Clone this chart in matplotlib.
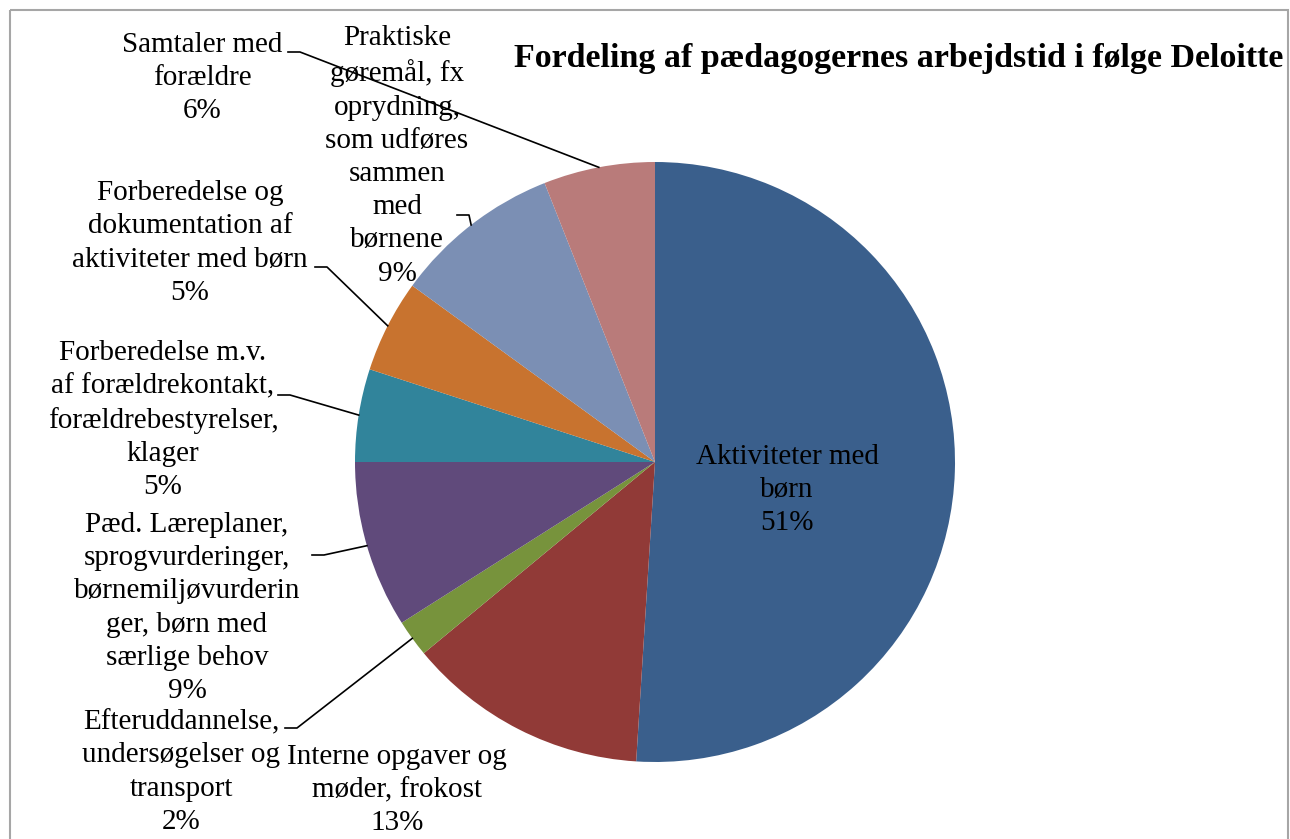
import matplotlib
matplotlib.use("Agg")
import matplotlib.pyplot as plt
from matplotlib.patches import Rectangle
import numpy as np

# data (clockwise from 12 o'clock)
labels = [
    "Aktiviteter med\nbørn",
    "Interne opgaver og\nmøder, frokost",
    "Efteruddannelse,\nundersøgelser og\ntransport",
    "Pæd. Læreplaner,\nsprogvurderinger,\nbørnemiljøvurderin\nger, børn med\nsærlige behov",
    "Forberedelse m.v.\naf forældrekontakt,\nforældrebestyrelser,\nklager",
    "Forberedelse og\ndokumentation af\naktiviteter med børn",
    "Praktiske\ngøremål, fx\noprydning,\nsom udføres\nsammen\nmed\nbørnene",
    "Samtaler med\nforældre",
]
shares = [51, 13, 2, 9, 5, 5, 9, 6]
colors = ["#3A5F8C", "#913A37", "#77933C", "#604A7B", "#31849B", "#C8732F", "#7B8FB4", "#B97B7A"]
title = "Fordeling af pædagogernes arbejdstid i følge Deloitte"

W, H = 1290, 839
fig = plt.figure(figsize=(W / 100, H / 100), dpi=100)
ax = fig.add_axes([0, 0, 1, 1])

cx, cy, r = 655, 462, 300
wedges, _ = ax.pie(shares, colors=colors, startangle=-90, counterclock=True,
                   center=(cx, cy), radius=r, wedgeprops=dict(linewidth=0))
ax.set_xlim(0, W)
ax.set_ylim(H, 0)
ax.axis("off")

# frame around the chart
ax.add_patch(Rectangle((10, 10), 1278, 840, fill=False, edgecolor="#A6A6A6", linewidth=1.5))

font = dict(family="Liberation Serif", fontsize=21, linespacing=1.36, ha="center", va="center", multialignment="center")

# label positions (x center, y center) and leader start
label_pos = [
    (787, 490, None),
    (397, 790, None),
    (181, 772, (285, 728)),
    (187, 608, (312, 555)),
    (163, 420, (278, 395)),
    (190, 243, (315, 267)),
    (397, 156, (457, 215)),
    (202, 78, (288, 52)),
]

for lab, val, w, (x, y, lead) in zip(labels, shares, wedges, label_pos):
    ax.text(x, y, lab + "\n" + str(val) + "%", **font)
    if lead is not None:
        th = np.deg2rad((w.theta1 + w.theta2) / 2)
        ex, ey = cx + r * np.cos(th), cy + r * np.sin(th)
        ax.plot([lead[0], lead[0] + 12, ex], [lead[1], lead[1], ey], color="black", linewidth=1.2)

ax.text(1283, 58, title, family="Liberation Serif", fontsize=24.5, fontweight="bold", ha="right", va="center")

fig.savefig("out.png", dpi=100)
